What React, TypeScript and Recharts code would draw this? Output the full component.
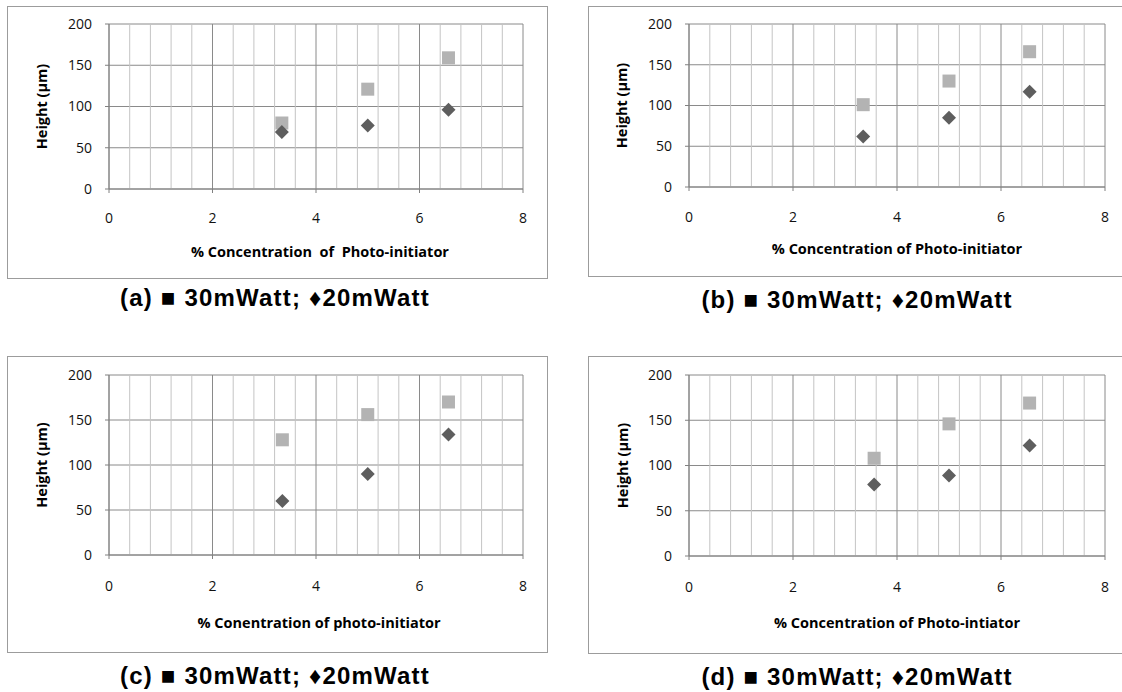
import React from 'react';
import { ScatterChart, Scatter, XAxis, YAxis, CartesianGrid, ReferenceLine } from 'recharts';

// ---------- data ----------
const xTicks = [0, 2, 4, 6, 8];
const yTicks = [0, 50, 100, 150, 200];
const minorXTicks = [0.4, 0.8, 1.2, 1.6, 2.4, 2.8, 3.2, 3.6, 4.4, 4.8, 5.2, 5.6, 6.4, 6.8, 7.2, 7.6];

const concA = [3.34, 5.0, 6.56];
const h30A = [80, 121, 159];
const h20A = [69, 77, 96];

const concB = [3.35, 5.0, 6.55];
const h30B = [101, 130, 166];
const h20B = [62, 85, 117];

const concC = [3.35, 5.0, 6.56];
const h30C = [128, 156, 170];
const h20C = [60, 90, 134];

const concD = [3.56, 5.0, 6.55];
const h30D = [108, 146, 169];
const h20D = [79, 89, 122];

const yLabel = 'Height (µm)';
const xLabels = [
  '% Concentration\u00A0 of\u00A0 Photo-initiator',
  '% Concentration of Photo-initiator',
  '% Conentration of photo-initiator',
  '% Concentration of Photo-intiator',
];
const captions = [
  '(a) ■ 30mWatt; ♦20mWatt',
  '(b) ■ 30mWatt; ♦20mWatt',
  '(c) ■ 30mWatt; ♦20mWatt',
  '(d) ■ 30mWatt; ♦20mWatt',
];

const toPoints = (xs: number[], ys: number[]) => xs.map((x, i) => ({ x, y: ys[i] }));

const SquareShape = (props: any) => {
  const { cx, cy } = props;
  const s = 13;
  return <rect x={cx - s / 2} y={cy - s / 2} width={s} height={s} fill="#b3b3b3" />;
};

const DiamondShape = (props: any) => {
  const { cx, cy } = props;
  const r = 7;
  return (
    <polygon
      points={`${cx},${cy - r} ${cx + r},${cy} ${cx},${cy + r} ${cx - r},${cy}`}
      fill="#5e5e5e"
    />
  );
};

type Layout = {
  box: [number, number, number, number];
  plot: [number, number, number, number];
  xTickY: number;
  xLabelY: number;
  xLabelDx: number;
  yLabelX: number;
  caption: [number, number];
};

const layouts: Layout[] = [
  { box: [7, 6, 541, 273], plot: [109, 523, 24, 189], xTickY: 218, xLabelY: 252, xLabelDx: 4, yLabelX: 42, caption: [275, 298] },
  { box: [588, 6, 545, 271], plot: [689, 1105, 24, 187], xTickY: 217, xLabelY: 249, xLabelDx: 0, yLabelX: 622, caption: [857, 300] },
  { box: [7, 356, 541, 297], plot: [109, 523, 375, 555], xTickY: 586, xLabelY: 623, xLabelDx: 3, yLabelX: 42, caption: [275, 676] },
  { box: [588, 356, 545, 298], plot: [689, 1105, 375, 556], xTickY: 587, xLabelY: 623, xLabelDx: 0, yLabelX: 623, caption: [857, 677] },
];

const series = [
  { d30: toPoints(concA, h30A), d20: toPoints(concA, h20A) },
  { d30: toPoints(concB, h30B), d20: toPoints(concB, h20B) },
  { d30: toPoints(concC, h30C), d20: toPoints(concC, h20C) },
  { d30: toPoints(concD, h30D), d20: toPoints(concD, h20D) },
];

const TICK_FS = 14;
const LABEL_FS = 14.5;
const FONT = '"Open Sans", sans-serif';
const AXIS_H = 75;
const LEFT_M = 20;

function Panel({ idx }: { idx: number }) {
  const L = layouts[idx];
  const [bx, by, bw, bh] = L.box;
  const [px0, px1, py0, py1] = L.plot;
  const yAxisW = px0 - bx - LEFT_M;
  const marginTop = py0 - by;
  const marginRight = bw - (px1 - bx);
  const marginBottom = bh - (py1 - by) - AXIS_H;
  const tickSize = 4;
  const xTickMargin = L.xTickY - py1 - tickSize - 0.353 * TICK_FS;
  const labelBaseline = L.xLabelY - py1 + 0.36 * LABEL_FS;
  const xLabelOffset = AXIS_H - labelBaseline;
  const yLabelOffset = L.yLabelX - bx - LEFT_M;
  return (
    <>
      <div
        style={{
          position: 'absolute',
          left: bx,
          top: by,
          width: bw,
          height: bh,
          boxSizing: 'border-box',
          border: '1px solid #9c9c9c',
        }}
      />
      <div style={{ position: 'absolute', left: bx, top: by }}>
        <ScatterChart
          width={bw}
          height={bh}
          margin={{ top: marginTop, right: marginRight, bottom: marginBottom, left: LEFT_M }}
        >
          <CartesianGrid stroke="#8a8a8a" strokeWidth={1} />
          {minorXTicks.map((v) => (
            <ReferenceLine key={v} x={v} stroke="#c4c4c4" strokeWidth={1} />
          ))}
          <XAxis
            type="number"
            dataKey="x"
            domain={[0, 8]}
            ticks={xTicks}
            interval={0}
            height={AXIS_H}
            tickSize={tickSize}
            tickMargin={xTickMargin}
            stroke="#808080"
            tick={{ fill: '#111', fontSize: TICK_FS, fontFamily: FONT }}
            label={{
              value: xLabels[idx],
              position: 'insideBottom',
              offset: xLabelOffset,
              dx: L.xLabelDx,
              style: { fontFamily: FONT, fontSize: LABEL_FS, fontWeight: 700, fill: '#000' },
            }}
          />
          <YAxis
            type="number"
            dataKey="y"
            domain={[0, 200]}
            ticks={yTicks}
            interval={0}
            width={yAxisW}
            tickSize={tickSize}
            tickMargin={13}
            stroke="#808080"
            tick={{ fill: '#111', fontSize: TICK_FS, fontFamily: FONT }}
            label={{
              value: yLabel,
              angle: -90,
              position: 'insideLeft',
              offset: yLabelOffset,
              style: { textAnchor: 'middle', fontFamily: FONT, fontSize: LABEL_FS, fontWeight: 700, fill: '#000' },
            }}
          />
          <Scatter data={series[idx].d30} shape={SquareShape} isAnimationActive={false} />
          <Scatter data={series[idx].d20} shape={DiamondShape} isAnimationActive={false} />
        </ScatterChart>
      </div>
      <div
        style={{
          position: 'absolute',
          left: L.caption[0],
          top: L.caption[1],
          transform: 'translate(-50%, -50%)',
          whiteSpace: 'nowrap',
          fontFamily: '"Liberation Sans", Arial, sans-serif',
          fontWeight: 700,
          fontSize: 24,
          letterSpacing: 1.2,
          color: '#000',
          lineHeight: 1,
        }}
      >
        {captions[idx]}
      </div>
    </>
  );
}

export default function App() {
  return (
    <div
      style={{
        position: 'absolute',
        left: 0,
        top: 0,
        width: 1122,
        height: 692,
        overflow: 'hidden',
        background: '#fff',
      }}
    >
      {[0, 1, 2, 3].map((i) => (
        <Panel key={i} idx={i} />
      ))}
    </div>
  );
}
